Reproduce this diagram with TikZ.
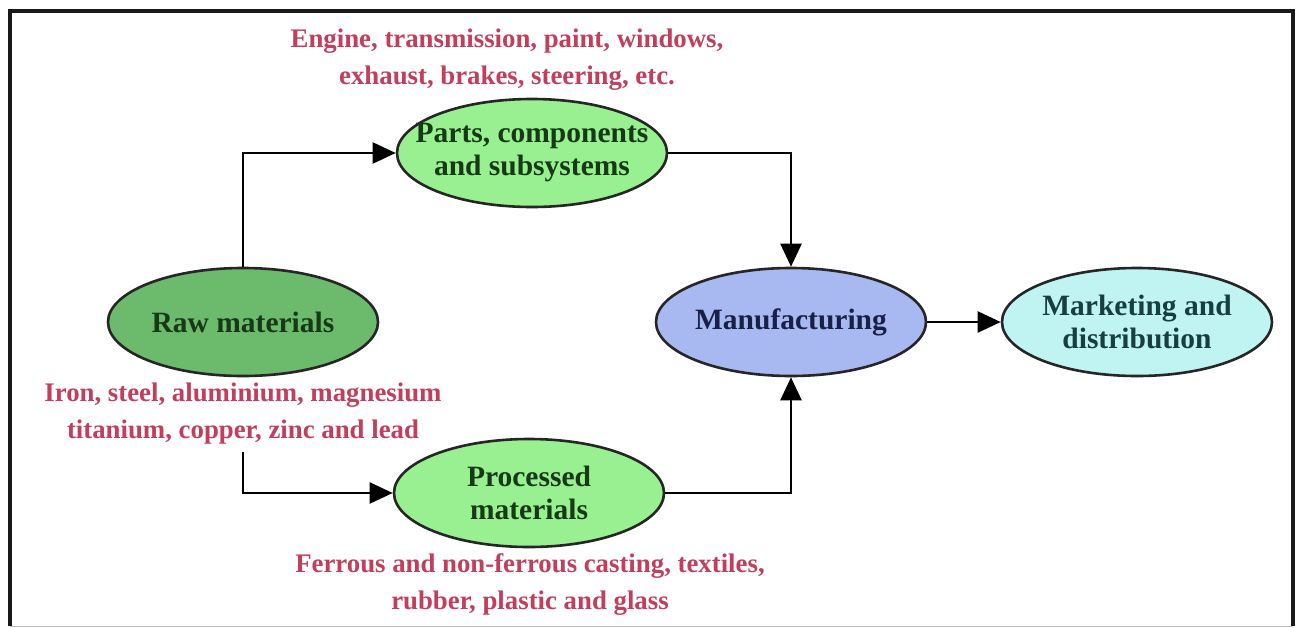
\documentclass[tikz,border=0pt]{standalone}
\usepackage{fontspec}
\setmainfont{Liberation Serif}
\usetikzlibrary{shapes.geometric,arrows.meta}
\definecolor{redtxt}{HTML}{C23E5C}
\definecolor{rawfill}{HTML}{6CBA6C}
\definecolor{partfill}{HTML}{98F090}
\definecolor{manfill}{HTML}{A8B8F0}
\definecolor{mktfill}{HTML}{C0F4F2}
\definecolor{dgreen}{HTML}{163A16}
\definecolor{navy}{HTML}{18204A}
\definecolor{dteal}{HTML}{173F3F}
\tikzset{
  ell/.style={ellipse, draw=black!85, line width=2.6pt, minimum width=270pt, minimum height=108pt, inner sep=-60pt, align=center, font=\fontsize{29.5}{33}\selectfont\bfseries},
  note/.style={text=redtxt, align=center, font=\fontsize{26.8}{37}\selectfont\bfseries},
  conn/.style={line width=2.3pt, draw=black},
  arr/.style={conn, -{Triangle[length=23pt,width=21pt]}}
}
\begin{document}
\begin{tikzpicture}[x=1pt,y=-1pt]
\useasboundingbox (0,0) rectangle (1301,627);
\fill[white] (0,0) rectangle (1301,627);
% frame
\draw[line width=4pt, black!90] (10,626) -- (10,11) -- (1293,11) -- (1293,626);
\draw[line width=1pt, black!25] (10,626) -- (1293,626);
% nodes
\node[ell, fill=rawfill, text=dgreen] (raw) at (243,322) {Raw materials};
\node[ell, fill=partfill, text=dgreen] (parts) at (532,153) {Parts, components\\and subsystems};
\node[ell, fill=partfill, text=dgreen] (proc) at (529,493) {Processed\\materials};
\node[ell, fill=manfill, text=navy] (man) at (791,322) {Manufacturing};
\node[ell, fill=mktfill, text=dteal] (mkt) at (1137,322) {Marketing and\\distribution};
% notes
\node[note] (n1) at (507,60) {Engine, transmission, paint, windows,\\exhaust, brakes, steering, etc.};
\node[note] (n2) at (243,414) {Iron, steel, aluminium, magnesium\\titanium, copper, zinc and lead};
\node[note] (n3) at (530,585) {Ferrous and non-ferrous casting, textiles,\\rubber, plastic and glass};
% connectors
\draw[arr] (raw.north) |- (parts.west);
\coordinate (s2) at (243,452);
\draw[arr] (s2) |- (proc.west);
\draw[arr] (parts.east) -| (man.north);
\draw[arr] (proc.east) -| (man.south);
\draw[arr] (man.east) -- (mkt.west);
\end{tikzpicture}
\end{document}
